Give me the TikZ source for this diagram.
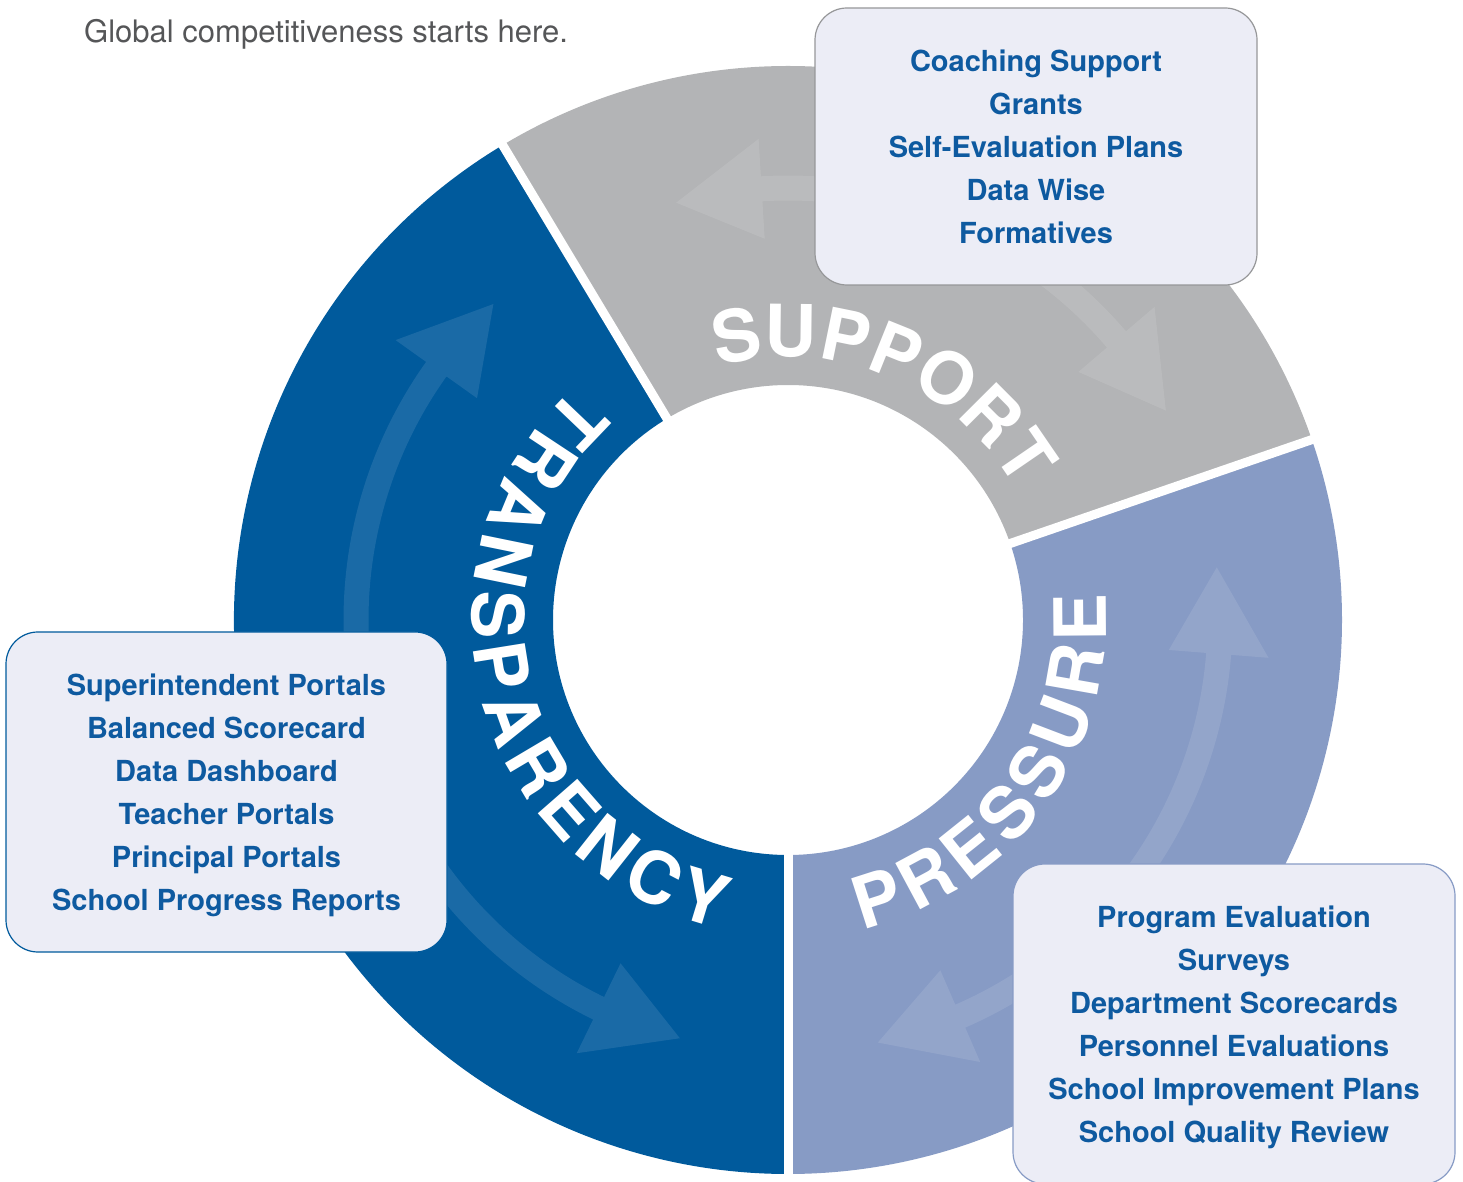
\documentclass[tikz,border=0pt]{standalone}
\usepackage{fontspec}
\setmainfont{TeX Gyre Heros}
\usetikzlibrary{decorations.text}
\definecolor{transp}{RGB}{0,90,156}
\definecolor{suppg}{RGB}{179,180,182}
\definecolor{press}{RGB}{135,155,197}
\definecolor{boxfill}{RGB}{236,237,246}
\definecolor{boxtext}{RGB}{14,90,160}
\definecolor{titlegray}{RGB}{85,86,88}
\definecolor{suppborder}{RGB}{150,151,153}
\newcommand\ringfont{\fontsize{72}{72}\selectfont\bfseries}
\newcommand\nodepth[1]{\raisebox{0pt}[\height][0pt]{#1}}
\newcommand\myringarrow[3]{%
  \fill[arrowfill] (#1:444.5) arc[start angle=#1, end angle=#2, radius=444.5]
    -- (#2:482) -- (#3:432) -- (#2:382) -- (#2:419.5)
    arc[start angle=#2, end angle=#1, radius=419.5] -- cycle;}
\begin{document}
\begin{tikzpicture}[x=1pt,y=1pt,
  infobox/.style={draw, line width=1.2pt, fill=boxfill, rounded corners=32pt,
    text=boxtext, align=center, font=\fontsize{29}{43}\selectfont\bfseries, inner sep=0pt},
  arrowfill/.style={fill=white, fill opacity=0.1},
  gapline/.style={white, line width=9pt},
  ringtext/.style={decorate, decoration={text along path, text color=white,
    text align=fit to path, text={|\ringfont|#1}}}
]
\useasboundingbox (0,0) rectangle (1463,1181);
\begin{scope}[shift={(788,561)}]
  % segments
  \fill[transp] (121:554) arc[start angle=121,end angle=270,radius=554]
     -- (270:235) arc[start angle=270,end angle=121,radius=235] -- cycle;
  \fill[suppg] (19:554) arc[start angle=19,end angle=121,radius=554]
     -- (121:235) arc[start angle=121,end angle=19,radius=235] -- cycle;
  \fill[press] (-90:554) arc[start angle=-90,end angle=19,radius=554]
     -- (19:235) arc[start angle=19,end angle=-90,radius=235] -- cycle;
  % arrows
  \myringarrow{190}{144.5}{133}
  \myringarrow{200}{244}{255.5}
  \myringarrow{80}{93.5}{105}
  \myringarrow{60}{40.5}{29}
  \myringarrow{-40}{-4.5}{7}
  \myringarrow{-50}{-66.5}{-78}
  % gaps
  \draw[gapline] (121:220) -- (121:570);
  \draw[gapline] (19:220) -- (19:570);
  \draw[gapline] (270:220) -- (270:570);
  % ring labels
  \path[ringtext=SUPPORT] (105.5:263) arc[start angle=105.5, end angle=31, radius=263];
  \path[ringtext=TRANSPARENCY] (132.4:316) arc[start angle=132.4, end angle=257.5, radius=316];
  \path[ringtext=PRESSURE] (-76.5:318) arc[start angle=-76.5, end angle=4.7, radius=318];
\end{scope}
% info boxes
\node[infobox, draw=suppborder, minimum width=442pt, minimum height=277pt] (suppbox) at (1036,1034.5)
  {Coaching Support\\Grants\\Self-Evaluation Plans\\Data Wise\\Formatives};
\node[infobox, draw=transp, minimum width=441pt, minimum height=320pt] (transbox) at (226.5,389)
  {Superintendent Portals\\Balanced Scorecard\\Data Dashboard\\Teacher Portals\\Principal Portals\\\nodepth{School Progress Reports}};
\node[infobox, draw=press, minimum width=442pt, minimum height=320pt] (pressbox) at (1234,157)
  {Program Evaluation\\Surveys\\Department Scorecards\\Personnel Evaluations\\School Improvement Plans\\\nodepth{School Quality Review}};
% title
\node[anchor=base west, inner sep=0pt, font=\fontsize{31}{36}\selectfont, text=titlegray] (title) at (84,1138)
  {Global competitiveness starts here.};
\end{tikzpicture}
\end{document}
